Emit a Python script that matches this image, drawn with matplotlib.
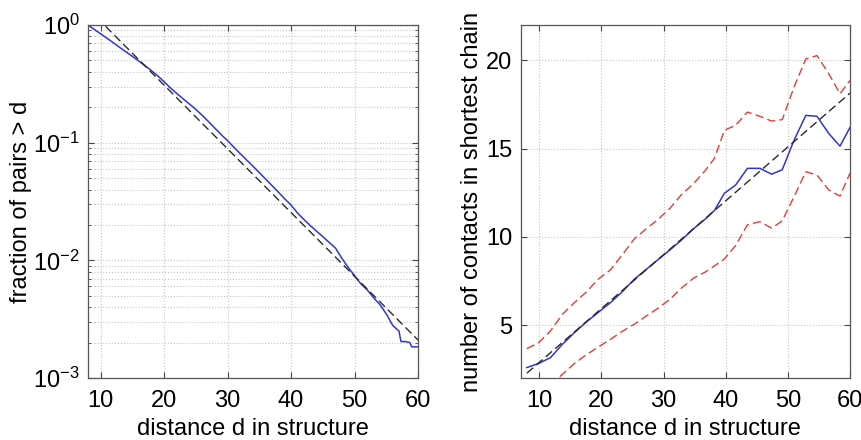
import matplotlib
matplotlib.use("Agg")
import matplotlib.pyplot as plt
from matplotlib.ticker import LogLocator, NullFormatter

plt.rcParams['font.family'] = ['Liberation Sans', 'DejaVu Sans']
plt.rcParams['mathtext.fontset'] = 'custom'
plt.rcParams['mathtext.rm'] = 'Liberation Sans'
plt.rcParams['mathtext.it'] = 'Liberation Sans'

# left panel: fraction of pairs further apart than d
d_left = [8, 9, 10, 11, 12, 13, 14, 15, 16, 17, 18, 19, 20, 21, 22, 23, 24, 25,
          26, 27, 28, 29, 30, 31, 32, 33, 34, 35, 36, 37, 38, 39, 40, 41, 42, 43,
          44, 45, 46, 47, 48, 49, 50, 51, 52, 53, 54, 55, 56, 57, 57.3, 58, 58.7,
          59, 60]
frac_pairs = [1.0, 0.918, 0.843, 0.773, 0.708, 0.646, 0.592, 0.542, 0.495, 0.452,
              0.410, 0.370, 0.330, 0.292, 0.262, 0.236, 0.213, 0.192, 0.171, 0.151,
              0.133, 0.117, 0.1040, 0.0915, 0.0806, 0.0713, 0.0631, 0.0556, 0.0490,
              0.0432, 0.0380, 0.0333, 0.0295, 0.0253, 0.0223, 0.0198, 0.0177, 0.0159,
              0.0142, 0.0127, 0.0104, 0.0087, 0.0074, 0.0063, 0.0056, 0.0048, 0.0042,
              0.0035, 0.0028, 0.0025, 0.00204, 0.00204, 0.0020, 0.00184, 0.00184]
fit_d_left = [8, 60]
fit_frac = [1.38, 0.0021]

# right panel: contacts in shortest chain (median and spread)
d_right = [8.0, 9.9, 11.8, 13.7, 15.6, 17.5, 19.5, 21.5, 23.4, 25.3, 27.2, 29.1,
           31.0, 32.9, 34.8, 36.7, 38.2, 39.8, 41.6, 43.5, 45.5, 47.4, 49.1, 51.0,
           52.9, 54.7, 56.6, 58.4, 60.0]
contacts_mid = [2.59, 2.82, 3.15, 3.9, 4.55, 5.15, 5.72, 6.28, 6.9, 7.6, 8.15, 8.7,
                9.25, 9.82, 10.45, 11.0, 11.5, 12.47, 12.93, 13.88, 13.88, 13.55,
                13.8, 15.47, 16.88, 16.83, 15.85, 15.14, 16.19]
contacts_hi = [3.66, 4.0, 4.66, 5.6, 6.25, 6.85, 7.6, 8.14, 9.0, 9.88, 10.45, 10.98,
               11.6, 12.4, 13.0, 13.75, 14.45, 16.04, 16.32, 17.07, 16.83, 16.56,
               16.64, 18.48, 20.08, 20.27, 19.24, 18.11, 18.86]
d_low = d_right[2:]
contacts_lo = [1.6, 2.2, 2.8, 3.3, 3.75, 4.2, 4.65, 5.05, 5.5, 5.95, 6.45, 7.1, 7.65,
               8.0, 8.35, 8.75, 9.5, 10.68, 10.86, 10.49, 10.9, 12.27, 13.69, 13.5,
               12.65, 12.31, 13.6]
fit_d_right = [8, 60]
fit_contacts = [2.27, 18.14]

blue = '#3434d4'
red = '#e53b3b'
black = '#2a2a2a'
fs = 17

fig = plt.figure(figsize=(8.62, 4.40), dpi=100)
ax1 = fig.add_axes([0.102, 0.141, 0.383, 0.802])
ax2 = fig.add_axes([0.604, 0.141, 0.382, 0.802])

ax1.plot(d_left, frac_pairs, color=blue, lw=1.1)
ax1.plot(fit_d_left, fit_frac, color=black, lw=1.0, dashes=(6, 3))
ax1.set_yscale('log')
ax1.set_xlim(8, 60)
ax1.set_ylim(1e-3, 1)
ax1.yaxis.set_major_locator(LogLocator(base=10, numticks=10))
ax1.yaxis.set_minor_locator(LogLocator(base=10, subs=range(2, 10), numticks=20))
ax1.yaxis.set_minor_formatter(NullFormatter())
ax1.set_xticks([10, 20, 30, 40, 50, 60])
ax1.set_xlabel('distance d in structure', fontsize=fs, labelpad=4)
ax1.set_ylabel('fraction of pairs > d', fontsize=fs, labelpad=1)
ax1.grid(True, which='both', color='#c4c4c4', ls=':', lw=0.8)

ax2.plot(d_right, contacts_hi, color=red, lw=1.0, dashes=(6, 3))
ax2.plot(d_low, contacts_lo, color=red, lw=1.0, dashes=(6, 3))
ax2.plot(d_right, contacts_mid, color=blue, lw=1.1)
ax2.plot(fit_d_right, fit_contacts, color=black, lw=1.0, dashes=(6, 3))
ax2.set_xlim(7, 60)
ax2.set_ylim(2, 22)
ax2.set_xticks([10, 20, 30, 40, 50, 60])
ax2.set_yticks([5, 10, 15, 20])
ax2.set_xlabel('distance d in structure', fontsize=fs, labelpad=4)
ax2.set_ylabel('number of contacts in shortest chain', fontsize=fs, labelpad=2)
ax2.grid(True, color='#c4c4c4', ls=':', lw=0.8)

for ax in (ax1, ax2):
    ax.set_axisbelow(True)
    ax.tick_params(which='both', direction='in', top=True, right=True,
                   labelsize=fs, colors='#444444', labelcolor='black')
    ax.tick_params(which='major', length=4)
    ax.tick_params(axis='x', which='major', pad=9)
    ax.tick_params(axis='y', which='major', pad=6)
    ax.tick_params(which='minor', length=2.5)
    for s in ax.spines.values():
        s.set_color('#555555')
        s.set_linewidth(0.9)

fig.savefig('out.png', dpi=100)
